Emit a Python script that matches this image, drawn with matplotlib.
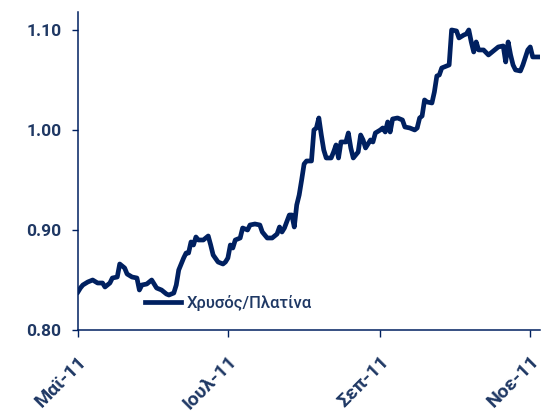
import matplotlib
matplotlib.use("Agg")
import matplotlib.pyplot as plt
import matplotlib.transforms as mtransforms
import pandas as pd

# Gold / platinum price ratio, 2011
dates = [
    "2011-05-01", "2011-05-02", "2011-05-03", "2011-05-05", "2011-05-07", "2011-05-09",
    "2011-05-11", "2011-05-12", "2011-05-14", "2011-05-15", "2011-05-17", "2011-05-18",
    "2011-05-20", "2011-05-21", "2011-05-23", "2011-05-25", "2011-05-26", "2011-05-27",
    "2011-05-29", "2011-05-31", "2011-06-02", "2011-06-04", "2011-06-06", "2011-06-07",
    "2011-06-09", "2011-06-10", "2011-06-11", "2011-06-13", "2011-06-14", "2011-06-15",
    "2011-06-16", "2011-06-17", "2011-06-18", "2011-06-19", "2011-06-21", "2011-06-23",
    "2011-06-24", "2011-06-25", "2011-06-27", "2011-06-29", "2011-06-30", "2011-07-01",
    "2011-07-02", "2011-07-03", "2011-07-04", "2011-07-06", "2011-07-07", "2011-07-09",
    "2011-07-10", "2011-07-12", "2011-07-14", "2011-07-15", "2011-07-17", "2011-07-19",
    "2011-07-21", "2011-07-22", "2011-07-23", "2011-07-24", "2011-07-26", "2011-07-27",
    "2011-07-28", "2011-07-29", "2011-07-30", "2011-07-31", "2011-08-01", "2011-08-02",
    "2011-08-04", "2011-08-05", "2011-08-06", "2011-08-07", "2011-08-08", "2011-08-09",
    "2011-08-10", "2011-08-12", "2011-08-13", "2011-08-14", "2011-08-15", "2011-08-16",
    "2011-08-18", "2011-08-19", "2011-08-20", "2011-08-21", "2011-08-23", "2011-08-24",
    "2011-08-25", "2011-08-26", "2011-08-28", "2011-08-29", "2011-08-30", "2011-09-01",
    "2011-09-02", "2011-09-03", "2011-09-04", "2011-09-05", "2011-09-06", "2011-09-08",
    "2011-09-10", "2011-09-11", "2011-09-13", "2011-09-15", "2011-09-16", "2011-09-17",
    "2011-09-18", "2011-09-19", "2011-09-20", "2011-09-22", "2011-09-23", "2011-09-24",
    "2011-09-25", "2011-09-26", "2011-09-28", "2011-09-29", "2011-09-30", "2011-10-02",
    "2011-10-03", "2011-10-05", "2011-10-06", "2011-10-07", "2011-10-08", "2011-10-09",
    "2011-10-10", "2011-10-11", "2011-10-13", "2011-10-15", "2011-10-17", "2011-10-19",
    "2011-10-21", "2011-10-22", "2011-10-23", "2011-10-24", "2011-10-25", "2011-10-26",
    "2011-10-28", "2011-10-29", "2011-10-31", "2011-11-01", "2011-11-02", "2011-11-03",
    "2011-11-05",
]
ratio = [
    0.838, 0.842, 0.845, 0.848, 0.850, 0.847,
    0.847, 0.843, 0.847, 0.852, 0.853, 0.866,
    0.862, 0.856, 0.853, 0.852, 0.840, 0.845,
    0.846, 0.850, 0.842, 0.840, 0.836, 0.835,
    0.837, 0.845, 0.860, 0.872, 0.877, 0.877,
    0.888, 0.885, 0.893, 0.890, 0.890, 0.894,
    0.885, 0.875, 0.868, 0.866, 0.868, 0.872,
    0.885, 0.882, 0.890, 0.892, 0.902, 0.900,
    0.905, 0.906, 0.905, 0.898, 0.892, 0.892,
    0.896, 0.903, 0.898, 0.902, 0.915, 0.915,
    0.903, 0.925, 0.935, 0.950, 0.966, 0.969,
    0.969, 1.000, 1.002, 1.012, 0.995, 0.980,
    0.972, 0.972, 0.978, 0.985, 0.972, 0.988,
    0.988, 0.997, 0.982, 0.972, 0.978, 0.995,
    0.990, 0.982, 0.990, 0.988, 0.997, 1.000,
    1.002, 0.998, 1.008, 0.998, 1.011, 1.012,
    1.010, 1.003, 1.002, 1.000, 1.002, 1.012,
    1.014, 1.030, 1.028, 1.027, 1.038, 1.054,
    1.055, 1.062, 1.064, 1.065, 1.100, 1.099,
    1.092, 1.095, 1.096, 1.100, 1.088, 1.078,
    1.088, 1.080, 1.080, 1.075, 1.079, 1.083,
    1.084, 1.068, 1.088, 1.075, 1.065, 1.060,
    1.059, 1.065, 1.080, 1.083, 1.073, 1.073,
    1.073,
]
tick_dates = ["2011-05-01", "2011-07-01", "2011-09-01", "2011-11-01"]
tick_labels = ["Μαϊ-11", "Ιουλ-11", "Σεπ-11", "Νοε-11"]
y_ticks = [0.80, 0.90, 1.00, 1.10]

navy = "#002060"
text_col = "#1f3864"

# Roboto has both Greek glyphs and a bold face
plt.rcParams["font.family"] = ["Roboto", "DejaVu Sans"]

fig = plt.figure(figsize=(5.45, 4.12), dpi=100)
ax = fig.add_axes([0.143, 0.199, 0.848, 0.772])

x = pd.to_datetime(dates)
ax.plot(x, ratio, color=navy, linewidth=3.4, solid_joinstyle="round",
        label="Χρυσός/Πλατίνα")

ax.set_ylim(0.80, 1.118)
ax.set_xlim(pd.Timestamp("2011-05-01"), pd.Timestamp("2011-11-05"))
ax.set_yticks(y_ticks)
ax.set_yticklabels([f"{v:.2f}" for v in y_ticks], fontsize=12.5,
                   fontweight="bold", color=text_col)
ax.set_xticks(pd.to_datetime(tick_dates))
ax.set_xticklabels(tick_labels, fontsize=14, fontweight="bold",
                   color=text_col, rotation=45, ha="right",
                   rotation_mode="anchor")

# nudge the slanted month labels a little to the right of their ticks
shift = mtransforms.ScaledTranslation(4 / 100, 0, fig.dpi_scale_trans)
for lbl in ax.get_xticklabels():
    lbl.set_transform(lbl.get_transform() + shift)

for side in ("top", "right"):
    ax.spines[side].set_visible(False)
for side in ("left", "bottom"):
    ax.spines[side].set_color(navy)
    ax.spines[side].set_linewidth(1.1)
ax.tick_params(axis="y", direction="out", length=4, width=1, color=navy, pad=8)
ax.tick_params(axis="x", direction="out", length=5, width=1, color=navy, pad=11)

leg = ax.legend(loc="lower left", bbox_to_anchor=(0.112, 0.012), frameon=False,
                handlelength=2.2, handletextpad=0.3,
                prop={"size": 12, "weight": "medium"})
for t in leg.get_texts():
    t.set_color(text_col)

fig.savefig("out.png", dpi=100)
